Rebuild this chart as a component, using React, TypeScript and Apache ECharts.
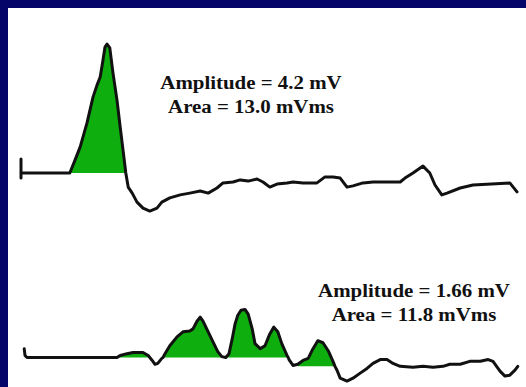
import React, { useEffect, useRef } from "react";
import * as echarts from "echarts";

// Top response (time in ms, voltage in mV)
const topTime = [0, 0, 0, 6.1, 6.75, 7.4, 8.25, 9.0, 9.5, 9.9, 10.25, 10.5, 10.75, 11.1, 11.5, 12.0, 12.4, 12.75, 13.1, 13.4, 13.9, 14.5, 15.25, 16.1, 17.0, 17.6, 18.6, 19.9, 21.1, 22.4, 23.4, 24.5, 25.25, 26.5, 27.4, 28.4, 29.5, 30.25, 31.1, 32.0, 33.25, 34.0, 35.25, 37.0, 38.0, 39.0, 39.9, 40.75, 41.5, 42.75, 44.0, 47.4, 48.0, 49.0, 50.25, 51.1, 51.75, 52.6, 53.25, 54.9, 56.5, 61.1, 62.0];
const topVolt = [0.47, -0.17, 0, 0, 0.43, 0.87, 1.67, 2.53, 2.93, 3.2, 3.77, 4.2, 4.3, 4.17, 3.33, 2.43, 1.53, 0.77, 0, -0.47, -0.67, -0.97, -1.17, -1.27, -1.17, -0.97, -0.83, -0.73, -0.67, -0.6, -0.67, -0.5, -0.33, -0.3, -0.23, -0.27, -0.2, -0.3, -0.47, -0.37, -0.33, -0.3, -0.33, -0.33, -0.13, -0.13, -0.17, -0.47, -0.43, -0.33, -0.3, -0.3, -0.17, 0.0, 0.23, 0.0, -0.4, -0.73, -0.67, -0.5, -0.4, -0.33, -0.63];

// Bottom response
const bottomTime = [0.4, 0.5, 0.75, 12.0, 12.4, 13.25, 14.0, 15.25, 15.9, 16.1, 16.4, 16.75, 17.1, 17.6, 17.75, 18.0, 18.6, 19.5, 20.25, 21.1, 21.5, 22.0, 22.4, 22.75, 23.4, 24.0, 24.6, 25.1, 25.6, 26.0, 26.4, 26.75, 27.1, 27.5, 28.0, 28.4, 28.9, 29.25, 29.9, 30.5, 31.1, 31.6, 32.1, 32.6, 33.25, 33.4, 33.5, 34.0, 34.6, 35.25, 35.9, 36.5, 37.1, 37.75, 38.4, 39.0, 39.25, 39.5, 39.9, 40.75, 41.5, 42.4, 43.25, 44.0, 44.9, 45.75, 46.5, 47.4, 49.0, 50.25, 51.5, 52.75, 53.6, 54.9, 56.1, 57.4, 58.4, 59.0, 59.9, 60.5, 61.1, 61.75, 62.1];
const bottomVolt = [0.3, 0.07, 0, 0, 0.07, 0.13, 0.17, 0.17, 0.07, 0, -0.1, -0.23, -0.2, -0.03, 0, 0.13, 0.4, 0.7, 0.87, 0.9, 0.97, 1.23, 1.37, 1.23, 0.87, 0.53, 0.2, 0.03, 0, 0.13, 0.63, 1.13, 1.43, 1.6, 1.63, 1.47, 0.97, 0.47, 0.3, 0.4, 0.8, 1.03, 0.87, 0.47, 0.07, 0, -0.07, -0.27, -0.23, -0.1, -0.03, 0.3, 0.57, 0.5, 0.23, -0.13, -0.3, -0.43, -0.7, -0.8, -0.7, -0.53, -0.37, -0.2, -0.07, -0.07, -0.2, -0.3, -0.33, -0.3, -0.33, -0.3, -0.23, -0.23, -0.13, -0.13, -0.07, -0.13, -0.47, -0.63, -0.6, -0.43, -0.3];

// Shaded regions: [start ms, end ms, reference level mV]
const topRegions = [[6.1, 13.1, 0]];
const bottomRegions = [[12.0, 16.1, 0], [17.75, 33.4, 0], [34.6, 39.25, -0.3]];

const topLabels = ["Amplitude = 4.2 mV", "Area = 13.0 mVms"];
const bottomLabels = ["Amplitude = 1.66 mV", "Area = 11.8 mVms"];

const GREEN = "#0fae0f";
const INK = "#111111";

function pairs(t: number[], v: number[]) {
  return t.map((x, i) => [x, v[i]]);
}

function fillSeries(t: number[], v: number[], regions: number[][], axisIndex: number) {
  return regions.map((r) => ({
    type: "line",
    xAxisIndex: axisIndex,
    yAxisIndex: axisIndex,
    data: pairs(t, v).filter((p) => p[0] >= r[0] && p[0] <= r[1]),
    showSymbol: false,
    silent: true,
    lineStyle: { width: 0, opacity: 0 },
    areaStyle: { color: GREEN, opacity: 1, origin: r[2] },
    z: 1,
  }));
}

export default function App() {
  const ref = useRef<HTMLDivElement>(null);
  useEffect(() => {
    if (!ref.current) return;
    const chart = echarts.init(ref.current, null, { renderer: "svg" });
    const textStyle = (s: string, x: number, y: number) => ({
      type: "text",
      x,
      y,
      scaleX: 1.1,
      style: {
        text: s,
        x: 0,
        y: 0,
        fill: INK,
        font: "bold 19px 'Liberation Serif', 'Times New Roman', serif",
        textAlign: "center",
        textVerticalAlign: "middle",
        verticalAlign: "middle",
      },
      z: 10,
    });
    chart.setOption({
      animation: false,
      backgroundColor: "#ffffff",
      grid: [
        { left: 13, top: 15, width: 500, height: 210 },
        { left: 13, top: 261, width: 500, height: 120 },
      ],
      xAxis: [
        { type: "value", gridIndex: 0, min: 0, max: 62.5, show: false },
        { type: "value", gridIndex: 1, min: 0, max: 62.5, show: false },
      ],
      yAxis: [
        { type: "value", gridIndex: 0, min: -2, max: 5, show: false },
        { type: "value", gridIndex: 1, min: -1, max: 3, show: false },
      ],
      series: [
        ...fillSeries(topTime, topVolt, topRegions, 0),
        ...fillSeries(bottomTime, bottomVolt, bottomRegions, 1),
        {
          type: "line",
          xAxisIndex: 0,
          yAxisIndex: 0,
          data: pairs(topTime, topVolt),
          showSymbol: false,
          lineStyle: { color: INK, width: 3, join: "round", cap: "round" },
          z: 5,
        },
        {
          type: "line",
          xAxisIndex: 1,
          yAxisIndex: 1,
          data: pairs(bottomTime, bottomVolt),
          showSymbol: false,
          lineStyle: { color: INK, width: 3, join: "round", cap: "round" },
          z: 5,
        },
      ],
      graphic: [
        textStyle(topLabels[0], 243, 74.6),
        textStyle(topLabels[1], 243, 98.6),
        textStyle(bottomLabels[0], 406, 282.6),
        textStyle(bottomLabels[1], 406, 306.6),
      ],
    });
    return () => chart.dispose();
  }, []);
  return (
    <div style={{ position: "fixed", left: 0, top: 0, width: 526, height: 387, background: "#050569", overflow: "hidden" }}>
      <div ref={ref} style={{ position: "absolute", left: 8, top: 8, width: 518, height: 379, background: "#ffffff" }} />
    </div>
  );
}
